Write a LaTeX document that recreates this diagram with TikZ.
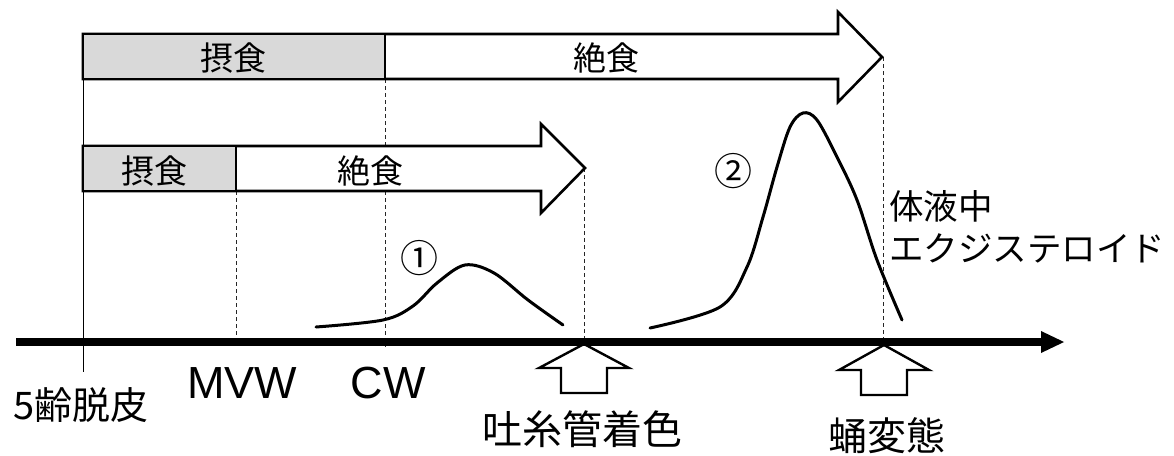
\documentclass[tikz,border=0pt]{standalone}
\usepackage{fontspec}
\setmainfont{Noto Sans CJK JP}
\newfontfamily\latf{Liberation Sans}
\begin{document}
\begin{tikzpicture}[x=1pt,y=-1pt,
  blk/.style={line width=2.6pt, line join=miter, draw=black},
  upblk/.style={line width=2.4pt, line join=miter, draw=black, fill=white},
  dsh/.style={line width=0.9pt, dash pattern=on 4pt off 3pt, black!85},
  crv/.style={line width=3pt, line cap=round, smooth, tension=0.55},
  lbl/.style={inner sep=0pt, anchor=center},
]
\useasboundingbox (0,0) rectangle (1174,455);

% named coordinates
\coordinate (l0) at (83,79);
\coordinate (l1) at (83,372);
\coordinate (m0) at (236,191);
\coordinate (m1) at (236,346);
\coordinate (c0) at (385,79);
\coordinate (c1) at (385,347);
\coordinate (s0) at (584,168);
\coordinate (s1) at (584,342);
\coordinate (p0) at (883,57);
\coordinate (p1) at (883,345);
\coordinate (a0) at (16,342);
\coordinate (a1) at (1045,342);

% vertical guide lines
\draw[line width=0.9pt] (l0) -- (l1);
\draw[dsh] (m0) -- (m1);
\draw[dsh] (c0) -- (c1);
\draw[dsh] (s0) -- (s1);
\draw[dsh] (p0) -- (p1);

% top block arrow
\draw[blk, fill=white] (83,34) -- (838,34) -- (838,12) -- (882,57) -- (838,102) -- (838,79) -- (83,79) -- cycle;
\draw[blk, fill=gray!30] (83,34) rectangle (385,79);
% second block arrow
\draw[blk, fill=white] (83,146) -- (541,146) -- (541,124) -- (585,168) -- (541,213) -- (541,191) -- (83,191) -- cycle;
\draw[blk, fill=gray!30] (83,146) rectangle (236,191);

\node[lbl] (f1) at (233,58) {\fontsize{33}{33}\selectfont 摂食};
\node[lbl] (z1) at (606,58) {\fontsize{33}{33}\selectfont 絶食};
\node[lbl] (f2) at (154,171) {\fontsize{33}{33}\selectfont 摂食};
\node[lbl] (z2) at (370,171) {\fontsize{33}{33}\selectfont 絶食};

% curves
\draw[crv] plot coordinates {(316,327) (383,320) (413,306) (437,283) (465,265) (494,273) (528,300) (563,325)};
\draw[crv] plot coordinates {(650,328) (720,307) (747,267) (763,217) (777,167) (790,127) (803,113) (817,120) (837,157) (857,200) (877,260) (902,320)};

\node[lbl] (n1) at (419,258) {\fontsize{38}{38}\selectfont ①};
\node[lbl] (n2) at (733,171) {\fontsize{38}{38}\selectfont ②};

% up block arrows
\draw[upblk] (584,344) -- (629,368) -- (607,368) -- (607,393) -- (561,393) -- (561,368) -- (539,368) -- cycle;
\draw[upblk] (884,345) -- (929,370) -- (907,370) -- (907,395) -- (861,395) -- (861,370) -- (839,370) -- cycle;

% axis
\draw[line width=7.5pt] (a0) -- (a1);
\fill (1041,331) -- (1064,342) -- (1041,353) -- cycle;

% labels
\node[lbl] (mvw) at (242,383) {\latf\fontsize{45}{45}\selectfont MVW};
\node[lbl] (cw) at (388,383) {\latf\fontsize{45}{45}\selectfont CW};
\node[lbl] (molt) at (81,405) {\fontsize{38}{38}\selectfont 5齢脱皮};
\node[lbl] (spin) at (582,429) {\fontsize{40}{40}\selectfont 吐糸管着色};
\node[lbl] (pupa) at (887,436) {\fontsize{39}{39}\selectfont 蛹変態};
\node[lbl, anchor=west] (h1) at (889,206) {\fontsize{34.5}{34.5}\selectfont 体液中};
\node[lbl, anchor=west] (h2) at (889,248) {\fontsize{34.5}{34.5}\selectfont エクジステロイド};
\end{tikzpicture}
\end{document}
